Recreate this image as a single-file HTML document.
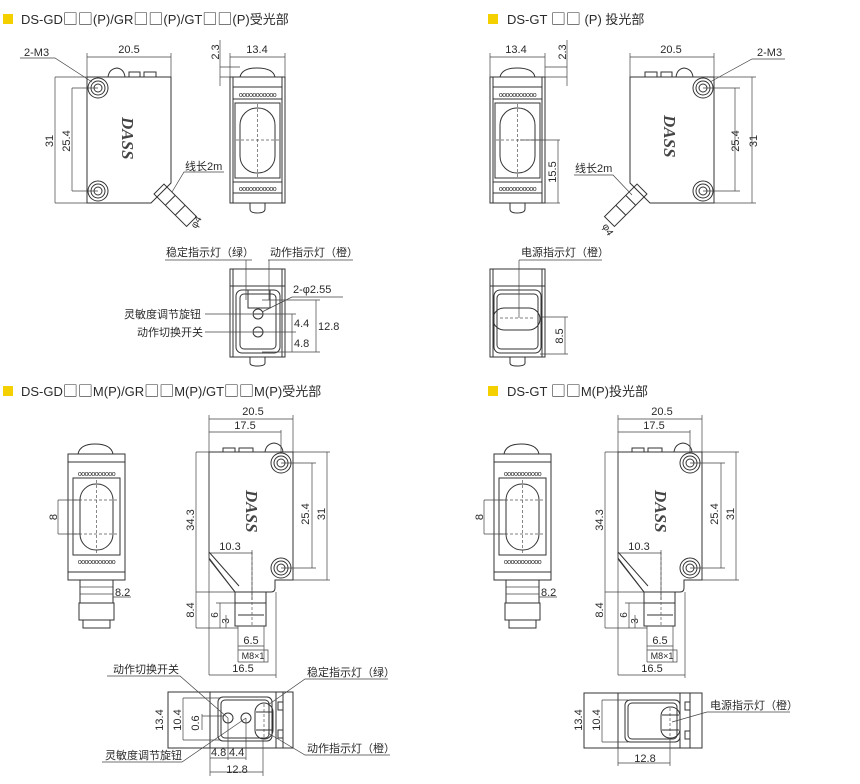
<!DOCTYPE html>
<html><head><meta charset="utf-8"><style>
html,body{margin:0;padding:0;background:#fff;}
svg{display:block;}
text{font-family:"Liberation Sans","Noto Sans CJK SC",sans-serif;fill:#2a2a2a;font-size:11px;}
.t{font-size:13px;}
.b{font-family:"Noto Sans CJK SC","WenQuanYi Zen Hei",sans-serif;font-size:15px;}
.s{fill:none;stroke:#333;stroke-width:1;}
.th{fill:none;stroke:#444;stroke-width:0.7;}
.d{fill:none;stroke:#555;stroke-width:0.7;stroke-dasharray:3 2;}
.logo{font-family:"Liberation Serif",serif;font-weight:bold;font-style:italic;font-size:17px;fill:#444;}
</style></head><body>
<svg width="860" height="784" viewBox="0 0 860 784" xmlns="http://www.w3.org/2000/svg">
<defs>
<g id="hole"><circle r="10" class="s"/><circle r="7" class="s"/><circle r="4" class="s"/></g>
<g id="body">
  <path class="s" d="M0 0 H84 V106 L64 126 H0 Z"/>
  <path class="s" d="M21 0 Q22 -8 30 -9 Q37 -8 38 0"/>
  <rect class="s" x="42" y="-5" width="11" height="5"/><rect class="s" x="57" y="-5" width="12" height="5"/>
  <use href="#hole" x="11" y="11"/><use href="#hole" x="11" y="114"/>
  <g transform="translate(72,112) rotate(45)">
    <rect class="s" x="0" y="-7" width="46" height="14"/>
    <line class="s" x1="16" y1="-7" x2="16" y2="7"/><line class="s" x1="30" y1="-7" x2="30" y2="7"/>
  </g>
</g>
<g id="front">
  <path class="s" d="M10 0 Q12 -9 27 -9 Q43 -9 45 0"/>
  <rect class="s" x="0" y="0" width="55" height="126"/>
  <rect class="s" x="3" y="0" width="49" height="126"/>
  <line class="s" x1="3" y1="10" x2="52" y2="10"/>
  <line class="s" x1="3" y1="22" x2="52" y2="22"/>
  <text x="27.5" y="20" text-anchor="middle" style="font-size:7px;letter-spacing:-0.5px">ooooooooooo</text>
  <rect class="s" x="5" y="26" width="45" height="75"/>
  <rect class="s" x="10" y="31" width="35" height="65" rx="17"/>
  <line class="d" x1="27.5" y1="27" x2="27.5" y2="100"/><line class="d" x1="6" y1="63" x2="49" y2="63"/>
  <line class="s" x1="3" y1="105" x2="52" y2="105"/>
  <line class="s" x1="3" y1="116" x2="52" y2="116"/>
  <text x="27.5" y="114" text-anchor="middle" style="font-size:7px;letter-spacing:-0.5px">ooooooooooo</text>
  <path class="s" d="M20 126 V132 Q20 136 27 136 Q35 136 35 132 V126"/>
</g>
<g id="frontM">
  <path class="s" d="M10 0 Q12 -10 27 -10 Q43 -10 45 0"/>
  <rect class="s" x="0" y="0" width="57" height="126"/>
  <line class="s" x1="0" y1="8" x2="57" y2="8"/><line class="s" x1="0" y1="118" x2="57" y2="118"/>
  <text x="28.5" y="22" text-anchor="middle" style="font-size:7px;letter-spacing:-0.5px">ooooooooooo</text>
  <rect class="s" x="5" y="24" width="47" height="77"/>
  <rect class="s" x="12" y="30" width="33" height="66" rx="16"/>
  <line class="d" x1="28.5" y1="26" x2="28.5" y2="100"/>
  <line class="d" x1="6" y1="46" x2="51" y2="46"/><line class="d" x1="6" y1="80" x2="51" y2="80"/>
  <text x="28.5" y="110" text-anchor="middle" style="font-size:7px;letter-spacing:-0.5px">ooooooooooo</text>
  <rect class="s" x="12" y="126" width="33" height="23"/>
  <line class="th" x1="12" y1="133" x2="45" y2="133"/><line class="th" x1="12" y1="140" x2="45" y2="140"/>
  <rect class="s" x="11" y="149" width="35" height="17"/>
  <rect class="s" x="15" y="166" width="27" height="8"/>
</g>
<g id="sideM">
  <path class="s" d="M0 0 H84 V128 H66 V136 Q66 140 62 140 H26 L0 106 Z"/>
  <line class="s" x1="0" y1="106" x2="0" y2="0"/>
  <path class="s" d="M0 100 L30 134 M0 107 L26 140"/>
  <path class="s" d="M56 0 Q57 -8 65 -9 Q73 -8 74 0"/>
  <rect class="s" x="14" y="-4" width="12" height="4"/><rect class="s" x="30" y="-4" width="14" height="4"/>
  <use href="#hole" x="72" y="11"/><use href="#hole" x="72" y="116"/>
  <rect class="s" x="26" y="140" width="31" height="34"/>
  <line class="s" x1="26" y1="151" x2="57" y2="151"/><line class="s" x1="29" y1="163" x2="55" y2="163"/>
  <line class="d" x1="43" y1="100" x2="43" y2="174"/>
</g>
</defs>

<!-- ===== TL ===== -->
<rect x="3" y="14" width="10" height="10" fill="#f5d000"/>
<text class="t" x="21" y="24">DS-GD<tspan class="b">□□</tspan>(P)/GR<tspan class="b">□□</tspan>(P)/GT<tspan class="b">□□</tspan>(P)受光部</text>
<use href="#body" x="87" y="77"/>
<text class="logo" transform="translate(122,117) rotate(90)">DASS</text>
<path class="th" d="M87 53 V77 M171 53 V77 M87 57 H171"/>
<text x="129" y="53" text-anchor="middle">20.5</text>
<path class="th" d="M20 58 H55 L92 82"/><text x="24" y="56">2-M3</text>
<path class="th" d="M55 77 H87 M55 203 H87 M55 77 V203 M72 88 H98 M72 191 H98 M72 88 V191"/>
<text transform="translate(53,141) rotate(-90)" text-anchor="middle">31</text>
<text transform="translate(70,141) rotate(-90)" text-anchor="middle">25.4</text>
<path class="th" d="M224 172 H184 L172 192"/><text x="185" y="170">线长2m</text>
<text transform="translate(196,229) rotate(-60)" style="font-size:10px">φ4</text>
<use href="#front" x="230" y="77"/>
<path class="th" d="M230 53 V77 M285 53 V77 M230 57 H285 M220 40 V86 M220 67 H240 M220 77 H230"/>
<text x="257" y="53" text-anchor="middle">13.4</text>
<text transform="translate(219,52) rotate(-90)" text-anchor="middle">2.3</text>
<!-- LED view TL -->
<rect class="s" x="230" y="269" width="55" height="88"/>
<line class="s" x1="233" y1="269" x2="233" y2="357"/><line class="s" x1="282" y1="269" x2="282" y2="357"/>
<line class="s" x1="230" y1="286" x2="285" y2="286"/>
<rect class="s" x="236" y="290" width="44" height="63" rx="6"/>
<rect class="s" x="240" y="294" width="36" height="55" rx="4"/>
<path class="s" d="M248 290 V308 H270 V290"/>
<circle class="s" cx="258" cy="314" r="5"/><line class="s" x1="253" y1="314" x2="263" y2="314"/>
<circle class="s" cx="258" cy="332" r="5"/><line class="s" x1="253" y1="332" x2="263" y2="332"/>
<path class="s" d="M250 357 V363 Q250 366 257 366 Q265 366 265 363 V357"/>
<path class="th" d="M165 260 H252 M246 260 V300 M268 260 H353 M269 260 V300"/>
<text x="166" y="256">稳定指示灯（绿）</text><text x="270" y="256">动作指示灯（橙）</text>
<path class="th" d="M343 297 H292 L262 312"/><text x="293" y="293">2-φ2.55</text>
<path class="th" d="M205 314 H252 M205 332 H252"/>
<text x="124" y="318">灵敏度调节旋钮</text><text x="137" y="336">动作切换开关</text>
<path class="th" d="M262 300 H320 M262 314 H296 M262 332 H296 M262 352 H320 M292 314 V352 M316 300 V352"/>
<text x="294" y="327">4.4</text><text x="294" y="347">4.8</text><text x="318" y="330">12.8</text>

<!-- ===== TR ===== -->
<rect x="488" y="14" width="10" height="10" fill="#f5d000"/>
<text class="t" x="507" y="24">DS-GT <tspan class="b">□□</tspan> (P) 投光部</text>
<use href="#front" x="490" y="77"/>
<path class="th" d="M490 53 V77 M545 53 V77 M490 57 H545 M567 40 V86 M545 67 H567 M545 77 H567"/>
<text x="516" y="53" text-anchor="middle">13.4</text>
<text transform="translate(566,52) rotate(-90)" text-anchor="middle">2.3</text>
<path class="th" d="M520 140 H560 M545 203 H560 M558 140 V203"/>
<text transform="translate(556,172) rotate(-90)" text-anchor="middle">15.5</text>
<g transform="translate(714,77) scale(-1,1)"><use href="#body"/></g>
<text class="logo" transform="translate(664,115) rotate(90)">DASS</text>
<path class="th" d="M630 53 V77 M714 53 V77 M630 57 H714"/>
<text x="671" y="53" text-anchor="middle">20.5</text>
<path class="th" d="M785 59 H752 L710 82"/><text x="757" y="56">2-M3</text>
<path class="th" d="M714 77 H756 M714 203 H756 M752 77 V203 M703 88 H740 M703 191 H740 M735 88 V191"/>
<text transform="translate(739,141) rotate(-90)" text-anchor="middle">25.4</text>
<text transform="translate(757,141) rotate(-90)" text-anchor="middle">31</text>
<path class="th" d="M574 175 H613 L632 195"/><text x="575" y="172">线长2m</text>
<text transform="translate(602,226) rotate(60)" style="font-size:10px">φ4</text>
<!-- LED view TR -->
<rect class="s" x="490" y="269" width="55" height="88"/>
<line class="s" x1="493" y1="269" x2="493" y2="357"/><line class="s" x1="542" y1="269" x2="542" y2="357"/>
<line class="s" x1="490" y1="286" x2="545" y2="286"/>
<rect class="s" x="494" y="290" width="47" height="63" rx="6"/>
<rect class="s" x="497" y="294" width="41" height="55" rx="4"/>
<rect class="s" x="493" y="308" width="47" height="22" rx="11"/>
<line class="d" x1="500" y1="318" x2="535" y2="318"/>
<path class="s" d="M510 357 V363 Q510 366 517 366 Q525 366 525 363 V357"/>
<path class="th" d="M519 260 H602 M519 260 V318"/><text x="521" y="256">电源指示灯（橙）</text>
<path class="th" d="M540 317 H568 M540 354 H568 M565 317 V354"/>
<text transform="translate(563,336) rotate(-90)" text-anchor="middle">8.5</text>

<!-- ===== BL ===== -->
<rect x="3" y="386" width="10" height="10" fill="#f5d000"/>
<text class="t" x="21" y="396">DS-GD<tspan class="b">□□</tspan>M(P)/GR<tspan class="b">□□</tspan>M(P)/GT<tspan class="b">□□</tspan>M(P)受光部</text>
<use href="#frontM" x="68" y="454"/>
<path class="th" d="M58 500 H80 M58 534 H80 M58 500 V534 M113 597 H131"/>
<text transform="translate(57,517) rotate(-90)" text-anchor="middle">8</text>
<text x="115" y="596">8.2</text>
<use href="#sideM" x="209" y="452"/>
<text class="logo" transform="translate(246,490) rotate(90)">DASS</text>
<path class="th" d="M209 415 V675 M293 415 V452 M209 419 H293 M281 430 V452 M209 432 H281 M196 452 H209 M196 592 H235 M196 452 V628 M196 628 H238 M252 550 V600 M209 553 H252 M216 603 H235 M220 603 V628 M226 615 V628 M238 626 V662 M264 626 V662 M238 646 H264 M238 650 H268 V662 H238 M276 592 V678 M209 675 H276 M293 452 H330 M293 580 H330 M281 463 H316 M281 568 H316 M312 463 V568 M327 452 V580"/>
<text x="253" y="415" text-anchor="middle">20.5</text><text x="245" y="429" text-anchor="middle">17.5</text>
<text transform="translate(194,520) rotate(-90)" text-anchor="middle">34.3</text>
<text x="230" y="550" text-anchor="middle">10.3</text>
<text transform="translate(194,610) rotate(-90)" text-anchor="middle">8.4</text>
<text transform="translate(218,615) rotate(-90)" text-anchor="middle" style="font-size:10px">6</text>
<text transform="translate(229,621) rotate(-90)" text-anchor="middle" style="font-size:10px">3</text>
<text x="251" y="644" text-anchor="middle">6.5</text>
<text x="253" y="659" text-anchor="middle" style="font-size:9px">M8×1</text>
<text x="243" y="672" text-anchor="middle">16.5</text>
<text transform="translate(309,514) rotate(-90)" text-anchor="middle">25.4</text>
<text transform="translate(325,514) rotate(-90)" text-anchor="middle">31</text>
<!-- LED view BL -->
<rect class="s" x="168" y="692" width="125" height="56"/>
<line class="s" x1="210" y1="692" x2="210" y2="748"/>
<path class="s" d="M276 692 V748 M283 692 V748"/>
<rect class="s" x="278" y="702" width="5" height="8"/><rect class="s" x="278" y="730" width="5" height="8"/>
<rect class="s" x="218" y="697" width="54" height="44" rx="5"/>
<rect class="s" x="221" y="700" width="48" height="38" rx="4"/>
<circle class="s" cx="228" cy="718" r="5"/><circle class="s" cx="246" cy="718" r="5"/>
<rect class="s" x="255" y="703" width="18" height="36" rx="9"/>
<line class="d" x1="264" y1="704" x2="264" y2="738"/><line class="s" x1="256" y1="712" x2="272" y2="712"/><line class="s" x1="256" y1="730" x2="272" y2="730"/>
<path class="th" d="M183 698 H220 M183 740 H220 M183 698 V740 M202 714 V730 M202 716 H223 M210 748 V776 M228 718 V760 M246 718 V760 M263 740 V776 M210 758 H246 M210 772 H263"/>
<text transform="translate(163,720) rotate(-90)" text-anchor="middle">13.4</text>
<text transform="translate(181,720) rotate(-90)" text-anchor="middle">10.4</text>
<text transform="translate(199,723) rotate(-90)" text-anchor="middle">0.6</text>
<text x="211" y="756">4.8</text><text x="229" y="756">4.4</text><text x="237" y="773" text-anchor="middle">12.8</text>
<path class="th" d="M107 676 H180 L228 718"/><text x="113" y="673">动作切换开关</text>
<path class="th" d="M102 762 H182 L246 718"/><text x="105" y="759">灵敏度调节旋钮</text>
<path class="th" d="M388 679 H305 L268 705"/><text x="307" y="676">稳定指示灯（绿）</text>
<path class="th" d="M390 755 H305 L268 733"/><text x="307" y="752">动作指示灯（橙）</text>

<!-- ===== BR ===== -->
<rect x="488" y="386" width="10" height="10" fill="#f5d000"/>
<text class="t" x="507" y="396">DS-GT <tspan class="b">□□</tspan>M(P)投光部</text>
<use href="#frontM" x="494" y="454"/>
<path class="th" d="M484 500 H506 M484 534 H506 M484 500 V534 M539 597 H557"/>
<text transform="translate(483,517) rotate(-90)" text-anchor="middle">8</text>
<text x="541" y="596">8.2</text>
<g transform="translate(409,0)">
<use href="#sideM" x="209" y="452"/>
<text class="logo" transform="translate(246,490) rotate(90)">DASS</text>
<path class="th" d="M209 415 V675 M293 415 V452 M209 419 H293 M281 430 V452 M209 432 H281 M196 452 H209 M196 592 H235 M196 452 V628 M196 628 H238 M252 550 V600 M209 553 H252 M216 603 H235 M220 603 V628 M226 615 V628 M238 626 V662 M264 626 V662 M238 646 H264 M238 650 H268 V662 H238 M276 592 V678 M209 675 H276 M293 452 H330 M293 580 H330 M281 463 H316 M281 568 H316 M312 463 V568 M327 452 V580"/>
<text x="253" y="415" text-anchor="middle">20.5</text><text x="245" y="429" text-anchor="middle">17.5</text>
<text transform="translate(194,520) rotate(-90)" text-anchor="middle">34.3</text>
<text x="230" y="550" text-anchor="middle">10.3</text>
<text transform="translate(194,610) rotate(-90)" text-anchor="middle">8.4</text>
<text transform="translate(218,615) rotate(-90)" text-anchor="middle" style="font-size:10px">6</text>
<text transform="translate(229,621) rotate(-90)" text-anchor="middle" style="font-size:10px">3</text>
<text x="251" y="644" text-anchor="middle">6.5</text>
<text x="253" y="659" text-anchor="middle" style="font-size:9px">M8×1</text>
<text x="243" y="672" text-anchor="middle">16.5</text>
<text transform="translate(309,514) rotate(-90)" text-anchor="middle">25.4</text>
<text transform="translate(325,514) rotate(-90)" text-anchor="middle">31</text>
</g>
<!-- LED view BR -->
<rect class="s" x="584" y="693" width="118" height="55"/>
<line class="s" x1="618" y1="693" x2="618" y2="748"/>
<path class="s" d="M680 693 V748 M690 693 V748"/>
<rect class="s" x="685" y="702" width="5" height="8"/><rect class="s" x="685" y="731" width="5" height="8"/>
<rect class="s" x="625" y="700" width="55" height="42" rx="5"/>
<rect class="s" x="628" y="703" width="49" height="36" rx="4"/>
<rect class="s" x="661" y="707" width="19" height="31" rx="9"/>
<line class="d" x1="670" y1="708" x2="670" y2="737"/><line class="s" x1="662" y1="715" x2="679" y2="715"/><line class="s" x1="662" y1="730" x2="679" y2="730"/>
<path class="th" d="M602 700 H628 M602 742 H628 M602 700 V742 M618 748 V766 M670 738 V766 M618 763 H670"/>
<text transform="translate(582,720) rotate(-90)" text-anchor="middle">13.4</text>
<text transform="translate(600,720) rotate(-90)" text-anchor="middle">10.4</text>
<text x="645" y="762" text-anchor="middle">12.8</text>
<path class="th" d="M790 712 H707 L672 722"/><text x="710" y="709">电源指示灯（橙）</text>
</svg>
</body></html>
